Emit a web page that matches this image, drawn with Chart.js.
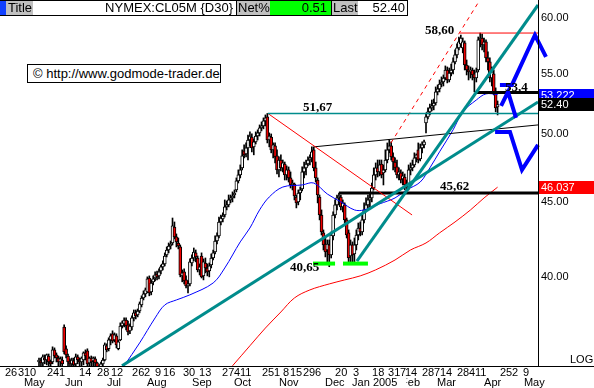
<!DOCTYPE html>
<html><head><meta charset="utf-8">
<script src="https://cdn.jsdelivr.net/npm/chart.js@4/dist/chart.umd.min.js"></script>
<style>
html,body{margin:0;padding:0;background:#fff;}
#wrap{position:relative;width:594px;height:388px;overflow:hidden;font-family:"Liberation Sans",Arial,sans-serif;}
canvas{display:block;position:absolute;left:0;top:0;}
.hb{position:absolute;top:1px;height:14px;line-height:14px;font-size:13px;color:#000;white-space:nowrap;overflow:hidden;box-sizing:border-box;}
.hl{position:absolute;background:#000;}
#copy{position:absolute;left:27px;top:64px;width:194px;height:19px;border:1px solid #000;background:#fff;box-sizing:border-box;font-size:13px;line-height:17px;padding-left:5px;white-space:nowrap;}
</style></head><body>
<div id="wrap">
<canvas id="c" width="594" height="388"></canvas>
<div class="hl" style="left:0;top:0;width:408px;height:1px"></div>
<div class="hl" style="left:0;top:15px;width:408px;height:1px"></div>
<div class="hb" style="left:0;width:6px;background:#1040ff"></div>
<div class="hb" style="left:6px;width:27px;background:#c0c0c0;padding-left:2px">Title</div>
<div class="hb" style="left:33px;width:203px;background:#fff;text-align:right;padding-right:3px">NYMEX:CL05M {D30}</div>
<div class="hl" style="left:236px;top:0;width:1px;height:16px"></div>
<div class="hb" style="left:237px;width:33px;background:#c0c0c0;padding-left:1px">Net%</div>
<div class="hb" style="left:270px;width:61px;background:#00ff00;text-align:right;padding-right:4px">0.51</div>
<div class="hl" style="left:331px;top:0;width:1px;height:16px"></div>
<div class="hb" style="left:332px;width:26px;background:#c0c0c0;padding-left:1px">Last</div>
<div class="hb" style="left:358px;width:49px;background:#fff;text-align:right;padding-right:2px">52.40</div>
<div class="hl" style="left:407px;top:0;width:1px;height:16px"></div>
<div id="copy">© http://www.godmode-trader.de</div>
</div>
<script>
// ---- daily candles (CL05M), index = trading day position ----
const opens = [35.02,35.08,34.97,35.24,35.13,35.35,35.02,35.02,35.69,35.41,
35.24,35.02,35.13,36.99,35.75,35.35,35.02,34.92,35.08,34.92,
35.30,35.13,35.02,35.13,35.52,35.63,34.97,35.24,35.08,35.19,
34.97,34.65,34.59,34.92,35.13,35.92,35.75,36.25,36.60,36.25,
36.48,35.75,36.25,37.05,37.17,37.40,37.11,36.77,36.99,37.52,
37.82,37.70,37.93,38.29,38.71,38.96,39.08,39.94,39.08,39.70,
39.94,40.19,40.07,40.38,40.64,40.83,41.41,41.73,41.99,42.19,
43.26,42.59,42.19,41.93,40.07,40.32,39.82,39.45,39.57,40.89,
41.21,41.54,41.21,40.45,41.34,40.07,40.89,40.57,40.38,40.76,
41.21,41.60,42.32,42.66,43.60,43.80,44.08,44.64,44.78,45.13,
45.27,45.48,45.84,46.49,46.93,47.45,48.73,48.50,48.96,49.57,
49.80,49.04,49.42,49.88,50.12,50.52,50.67,51.07,51.39,49.57,
49.80,48.81,49.11,48.35,47.30,48.04,47.45,47.74,46.93,47.30,
46.71,46.20,46.27,45.34,44.99,45.62,45.91,47.15,47.45,47.74,
48.04,48.20,48.81,47.45,46.56,45.34,44.08,42.86,42.12,41.73,
42.06,41.41,42.66,44.08,44.78,45.27,45.34,44.64,44.78,43.74,
42.86,41.34,42.06,41.47,42.06,42.72,43.19,42.92,43.74,44.43,
44.78,45.13,45.27,45.98,46.93,47.45,47.15,47.74,47.08,47.30,
48.04,48.81,49.11,48.27,47.89,47.52,46.93,47.08,46.63,46.78,
46.20,46.05,47.30,47.45,47.67,48.20,48.81,48.12,48.96,49.19,
50.91,51.39,51.80,52.12,52.28,52.52,53.44,53.69,54.11,54.28,
54.62,55.31,54.45,55.05,55.31,56.01,56.63,57.25,57.61,57.25,
57.70,55.74,55.31,55.14,55.31,54.97,54.62,55.31,57.97,58.15,
57.52,57.79,56.36,56.01,54.62,54.97,53.44,52.20];
const highs = [35.24,35.24,35.41,35.41,35.46,35.46,35.13,35.86,35.80,35.52,
35.35,35.30,35.30,37.11,35.92,35.46,35.19,35.24,35.24,35.46,
35.41,35.24,35.30,35.58,35.69,35.75,35.30,35.35,35.30,35.30,
35.02,34.81,35.02,35.24,36.08,36.03,36.37,36.60,36.77,36.65,
36.60,36.25,37.23,37.34,37.52,37.52,37.34,37.17,37.64,37.99,
37.99,38.05,38.47,38.84,39.14,39.32,40.01,40.07,39.82,40.07,
40.32,40.38,40.51,40.76,41.02,41.54,41.93,42.19,42.32,43.87,
43.60,42.79,42.52,42.06,40.45,40.51,40.07,39.76,41.15,41.41,
41.86,41.73,41.34,40.83,41.54,41.15,41.21,40.83,40.89,41.47,
41.73,42.66,42.86,43.94,44.08,44.22,45.13,45.06,45.48,45.48,
45.70,45.84,46.71,47.30,47.67,48.81,49.19,49.34,49.96,50.20,
50.04,49.65,50.20,50.36,50.75,50.99,51.31,51.55,51.67,50.12,
50.04,49.34,49.34,48.81,48.27,48.43,48.04,47.89,47.60,47.52,
47.15,46.56,46.34,45.48,45.84,46.05,47.52,47.89,48.04,48.27,
48.43,49.04,49.04,47.89,46.71,45.48,44.43,43.06,42.59,42.39,
42.39,42.92,44.29,45.13,45.48,45.62,45.48,45.13,44.92,43.87,
43.06,42.39,42.26,42.52,43.06,43.53,43.60,44.08,44.92,45.27,
45.48,45.62,46.34,47.45,47.82,48.04,48.04,48.04,47.67,48.81,
49.34,49.57,49.42,48.58,48.20,48.04,47.45,47.30,47.15,47.00,
46.56,47.67,47.82,48.04,48.58,48.50,49.34,49.26,49.42,49.57,
51.71,52.12,52.44,52.77,52.85,53.86,54.03,54.45,54.71,54.88,
55.66,55.57,55.48,55.83,56.36,57.07,57.61,58.24,58.42,58.15,
57.88,56.18,55.66,55.57,55.48,55.31,55.48,58.24,58.60,58.51,
58.15,57.97,56.90,56.36,55.57,55.31,53.78,52.69];
const lows = [34.81,34.81,34.81,34.92,34.86,34.81,34.75,34.92,35.24,35.02,
34.81,34.75,34.70,35.46,35.24,34.81,34.70,34.75,34.70,34.81,
34.92,34.81,34.81,34.86,35.13,34.81,34.81,34.81,34.81,34.75,
34.48,34.37,34.48,34.75,35.08,35.58,35.63,35.97,36.08,36.14,
35.80,35.69,36.20,36.93,36.99,36.82,36.54,36.60,36.82,37.34,
37.46,37.58,37.82,38.17,38.59,38.78,39.02,38.84,38.90,39.51,
39.76,39.82,39.88,40.19,40.45,40.70,41.28,41.54,41.80,42.06,
42.46,41.93,41.80,40.01,39.70,39.57,39.32,39.02,39.45,40.70,
41.02,40.96,40.32,40.13,39.94,39.82,40.26,40.07,40.01,40.57,
41.08,41.47,42.12,42.52,43.40,43.60,43.94,44.43,44.64,44.92,
44.99,45.27,45.70,46.34,46.71,47.30,48.20,48.27,48.04,49.11,
48.66,48.43,49.26,49.57,49.88,50.28,50.44,50.67,49.34,49.04,
48.58,48.20,47.82,47.00,46.78,47.23,47.15,46.56,46.56,46.41,
45.98,45.84,45.13,44.57,44.78,45.13,45.77,46.71,46.93,47.60,
47.67,47.89,47.23,46.41,44.92,43.74,42.72,41.73,41.28,40.96,
40.65,41.21,42.39,43.87,44.43,44.78,44.43,44.29,43.53,42.52,
40.96,40.89,40.83,40.96,41.73,42.39,42.66,42.72,43.53,44.29,
44.57,44.64,44.99,45.84,46.56,46.78,46.86,46.71,46.20,47.15,
47.82,48.58,48.04,47.30,47.15,46.71,46.56,46.34,46.20,45.84,
45.62,45.84,46.93,47.23,47.52,47.89,47.82,47.97,48.58,48.96,
50.12,51.23,51.55,51.88,51.96,52.36,53.19,53.44,53.86,53.94,
54.45,54.20,54.28,54.80,54.97,55.83,56.36,57.07,57.34,56.81,
55.31,54.88,54.45,54.62,54.45,53.44,54.28,55.14,57.34,57.07,
56.90,56.01,55.31,54.28,53.94,53.19,51.80,51.55];
const closes = [35.13,34.97,35.30,35.13,35.41,35.02,34.92,35.69,35.35,35.24,
35.02,35.19,34.92,35.58,35.41,35.02,34.92,35.13,34.86,35.30,
35.13,35.02,35.24,35.52,35.35,34.92,35.24,35.02,35.24,34.97,
34.70,34.54,34.92,35.13,35.97,35.69,36.25,36.48,36.20,36.54,
35.97,36.14,37.05,37.23,37.40,37.05,36.71,37.05,37.52,37.82,
37.64,37.93,38.35,38.71,38.96,39.20,39.88,39.02,39.63,39.88,
40.13,40.01,40.32,40.64,40.83,41.34,41.73,41.99,42.12,43.33,
42.59,42.26,41.99,40.13,40.26,39.76,39.45,39.57,40.96,41.21,
41.60,41.28,40.45,40.64,40.01,40.96,40.57,40.32,40.70,41.21,
41.54,42.32,42.66,43.60,43.87,44.01,44.64,44.78,45.13,45.27,
45.41,45.62,46.49,46.93,47.30,48.35,48.43,48.96,49.57,49.88,
48.96,49.42,49.88,50.12,50.52,50.67,51.07,51.31,49.57,49.88,
48.81,49.19,48.27,47.30,48.04,47.45,47.82,46.93,47.30,46.71,
46.20,46.34,45.41,44.92,45.62,45.84,47.15,47.45,47.74,48.04,
48.20,48.66,47.45,46.71,45.48,44.08,42.92,42.06,41.60,42.12,
41.41,42.72,44.08,44.78,45.27,45.41,44.64,44.92,43.74,42.72,
41.21,42.06,41.41,42.06,42.72,43.19,42.92,43.74,44.43,44.78,
45.13,45.27,45.98,46.93,47.45,47.15,47.67,46.93,47.30,48.04,
48.81,49.11,48.27,47.89,47.45,46.93,47.15,46.56,46.86,46.20,
45.98,47.30,47.45,47.67,48.20,48.43,48.04,48.96,49.19,49.42,
51.39,51.80,52.12,52.28,52.52,53.44,53.69,54.11,54.28,54.62,
55.31,54.45,55.05,55.31,56.01,56.63,57.25,57.79,58.15,57.79,
55.74,55.31,55.14,55.31,54.88,54.62,55.14,57.97,58.15,57.52,
57.79,56.36,56.01,54.62,55.14,53.44,52.12,52.40];

// ---- moving averages: [index, price] ----
const blueMA = [[44,34.81],[52,36.08],[60,37.52],[65,38.29],[71,38.59],[78,38.90],[90,39.63],[96,40.57],[104,42.26],[109,43.19],[114,44.43],[119,45.34],[126,46.05],[136,46.20],[142,46.34],[149,45.55],[156,44.99],[163,44.43],[168,44.43],[176,44.85],[184,45.27],[190,45.84],[197,46.41],[202,47.45],[207,48.66],[214,50.36],[219,51.80],[226,52.77],[231,53.28],[237,53.22]];
const redMA = [[100,34.81],[109,35.92],[117,36.93],[125,37.87],[132,38.71],[140,39.20],[150,39.57],[158,39.82],[166,40.07],[174,40.45],[184,41.08],[192,41.73],[200,42.19],[207,42.86],[215,43.60],[223,44.43],[230,45.27],[237,46.04]];

// ---- drawn analysis lines: [index, price] ----
const tealLong   = [[42.9,34.81],[257.9,52.61]];
const tealSteep  = [[164.3,41.01],[257.9,61.23]];
const tealLevel  = [[118.3,51.67],[257.9,51.67]];
const redFall    = [[118.3,51.67],[192.8,44.08]];
const redDashed  = [[181.9,49.34],[226.9,61.43]];
const blackNeck  = [[142.1,49.04],[257.9,50.75]];
const black4562  = [[155.0,45.62],[257.9,45.62]];
const black534   = [[225.3,53.40],[257.9,53.40]];
const red5860    = [[217.6,58.60],[257.9,58.60]];
const green1     = [[141.6,40.85],[153.0,40.85]];
const green2     = [[157.1,40.85],[170.0,40.85]];
const projUp     = [[238.2,54.03],[244.4,54.03],[256.3,58.42],[262.0,56.45]];
const projMid    = [[238.8,52.28],[242.4,53.44],[246.5,51.31]];
const projLow    = [[235.7,50.20],[243.4,50.20],[249.6,47.30],[257.9,49.19]];

// ---- text notes on the price area ----
const noteText  = ['58,60','51,67','40,65','45,62','53,4'];
const noteIdx   = [199.5,136.4,129.7,207.2,240.8];
const notePrice = [58.79,52.12,40.57,46.05,53.78];

// ---- axis labels ----
const yTicks = [40,45,50,55,60];
const valueBoxes = [[53.222,'53.222','#0000ff'],[52.40,'52.40','#000000'],[46.037,'46.037','#ff0000']];
const dayTickIdx = [-17.6,-10.9,-7.8,4.1,10.3,20.7,30.0,37.2,48.1,54.3,59.9,64.1,74.4,82.7,94.6,100.8,103.9,115.2,121.4,126.1,129.7,136.4,142.6,153.0,162.3,172.1,180.4,186.6,189.1,197.9,204.1,207.2,216.0,222.2,225.3,238.2,244.4,250.1];
const dayTickText = ['26','3','10','24','1','14','28','12','26','2','9','16','30','13','27','4','11','25','1','8','15','29','6','20','3','18','31','7','14','28','7','14','28','4','11','25','2','9'];
const monthIdx  = [-7.8,13.4,35.1,55.8,79.1,100.8,124.0,147.8,187.1,161.8,205.7,230.0,250.6];
const monthText = ['May','Jun','Jul','Aug','Sep','Oct','Nov','Dec','Feb','Jan 2005   ','Mar','Apr','May'];

const pts = a => a.map(([x,y]) => ({x, y}));
function lineDS(a, color, w, extra){
  return Object.assign({type:'line', data:pts(a), borderColor:color, borderWidth:w, pointRadius:0, fill:false, tension:0, order:1}, extra||{});
}

const overlay = {
  id:'overlay',
  afterDatasetsDraw(chart){
    const {ctx, chartArea:a, scales:{x, y}} = chart;
    ctx.save();
    ctx.beginPath(); ctx.rect(a.left, a.top, a.right-a.left, a.bottom-a.top); ctx.clip();
    ctx.font = 'bold 13px "Liberation Serif"';
    ctx.fillStyle = '#000'; ctx.textBaseline = 'middle'; ctx.textAlign = 'left';
    noteText.forEach((t,i) => ctx.fillText(t, x.getPixelForValue(noteIdx[i]), y.getPixelForValue(notePrice[i])));
    ctx.restore();
  },
  afterDraw(chart){
    const {ctx, chartArea:a, scales:{x, y}} = chart;
    ctx.save();
    ctx.fillStyle = '#000';
    ctx.fillRect(Math.round(a.right), 0, 1, Math.round(a.bottom)+1);
    ctx.fillRect(0, Math.round(a.bottom), chart.width, 1);
    ctx.font = '11px "Liberation Sans"';
    ctx.textBaseline = 'middle'; ctx.textAlign = 'left';
    yTicks.forEach(v => ctx.fillText(v.toFixed(2), a.right+3, y.getPixelForValue(v)));
    valueBoxes.forEach(([v, t, c]) => {
      const py = Math.round(y.getPixelForValue(v));
      ctx.fillStyle = c; ctx.fillRect(a.right+1, py-6, chart.width-a.right-1, 13);
      ctx.fillStyle = '#fff'; ctx.fillText(t, a.right+3, py+0.5);
    });
    ctx.fillStyle = '#000';
    ctx.textBaseline = 'top';
    dayTickText.forEach((t,i) => ctx.fillText(t, x.getPixelForValue(dayTickIdx[i]), a.bottom+1));
    monthText.forEach((t,i) => {
      const px = x.getPixelForValue(monthIdx[i]);
      const w = ctx.measureText(t).width;
      ctx.fillStyle = '#fff'; ctx.fillRect(px, a.bottom+11, w, 11);
      ctx.fillStyle = '#000'; ctx.fillText(t, px, a.bottom+11);
    });
    ctx.fillText('LOG', 570, a.bottom-12);
    ctx.restore();
  }
};

new Chart(document.getElementById('c'), {
  type:'bar',
  data:{datasets:[
    lineDS(projUp,'#0000ff',4,{order:0, clip:false}),
    lineDS(projMid,'#0000ff',4,{order:0, clip:false}),
    lineDS(projLow,'#0000ff',4,{order:0, clip:false}),
    lineDS(green1,'#00ff00',4),
    lineDS(green2,'#00ff00',4),
    lineDS(tealLong,'#008c8c',3),
    lineDS(tealSteep,'#008c8c',3),
    lineDS(tealLevel,'#008c8c',1.5),
    lineDS(redFall,'#ff0000',1),
    lineDS(redDashed,'#ff0000',1,{borderDash:[4,4]}),
    lineDS(blackNeck,'#000000',1),
    lineDS(black4562,'#000000',3),
    lineDS(black534,'#000000',3),
    lineDS(red5860,'#ff0000',1),
    lineDS(blueMA,'#0000ff',1,{tension:0.35, order:2}),
    lineDS(redMA,'#ff0000',1,{tension:0.35, order:2}),
    {type:'bar', data: highs.map((h,i)=>({x:i, y:[lows[i], h]})), backgroundColor:'#000', borderWidth:0, barThickness:1, grouped:false, order:6},
    {type:'bar', data: opens.map((o,i)=>({x:i, y:[o, closes[i]]})), backgroundColor: opens.map((o,i)=> closes[i] < o ? '#f00000' : '#ffffff'), borderColor:'#000', borderWidth:1, borderSkipped:false, barThickness:3, grouped:false, order:5}
  ]},
  plugins:[overlay],
  options:{
    responsive:false, animation:false, events:[],
    layout:{padding:0},
    plugins:{legend:{display:false}, tooltip:{enabled:false}},
    scales:{
      x:{type:'linear', min:-20.16, max:257.88, offset:false, grid:{display:false}, border:{display:false}, ticks:{display:false},
         afterFit(s){ s.height = 22; }},
      y:{type:'logarithmic', position:'right', min:34.80, max:61.71, grid:{display:false}, border:{display:false}, ticks:{display:false},
         afterFit(s){ s.width = 56; }}
    }
  }
});
</script>
</body></html>
